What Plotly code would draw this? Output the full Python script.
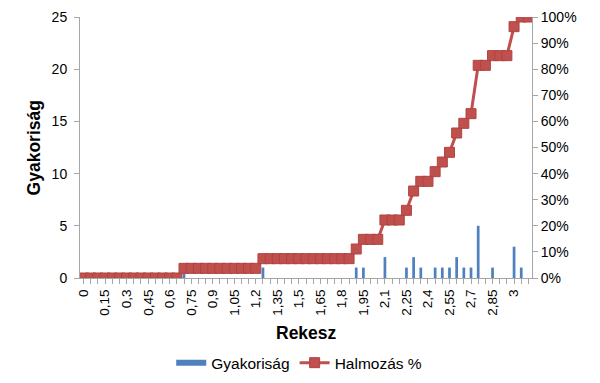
import plotly.graph_objects as go

# Bin values (Rekesz), step 0,05 from 0 to 3,10
bins = [round(0.05 * i, 2) for i in range(63)]

# Frequency (Gyakoriság) per bin
counts = [0, 0, 0, 0, 0, 0, 0, 0, 0, 0,
          0, 0, 0, 0, 1, 0, 0, 0, 0, 0,
          0, 0, 0, 0, 0, 1, 0, 0, 0, 0,
          0, 0, 0, 0, 0, 0, 0, 0, 1, 1,
          0, 0, 2, 0, 0, 1, 2, 1, 0, 1,
          1, 1, 2, 1, 1, 5, 0, 1, 0, 0,
          3, 1, 0]

# Cumulative percentage (Halmozás %)
cum_pct = [0, 0, 0, 0, 0, 0, 0, 0, 0, 0,
           0, 0, 0, 0, 3.70, 3.70, 3.70, 3.70, 3.70, 3.70,
           3.70, 3.70, 3.70, 3.70, 3.70, 7.41, 7.41, 7.41, 7.41, 7.41,
           7.41, 7.41, 7.41, 7.41, 7.41, 7.41, 7.41, 7.41, 11.11, 14.81,
           14.81, 14.81, 22.22, 22.22, 22.22, 25.93, 33.33, 37.04, 37.04, 40.74,
           44.44, 48.15, 55.56, 59.26, 62.96, 81.48, 81.48, 85.19, 85.19, 85.19,
           96.30, 100, 100]

tick_vals = [0, 0.15, 0.3, 0.45, 0.6, 0.75, 0.9, 1.05, 1.2, 1.35, 1.5,
             1.65, 1.8, 1.95, 2.1, 2.25, 2.4, 2.55, 2.7, 2.85, 3]
tick_text = ["0", "0,15", "0,3", "0,45", "0,6", "0,75", "0,9", "1,05", "1,2", "1,35", "1,5",
             "1,65", "1,8", "1,95", "2,1", "2,25", "2,4", "2,55", "2,7", "2,85", "3"]

BLUE = "#4F81BD"
RED = "#C0504D"
GRID = "#A6A6A6"
FONT = "Liberation Sans, Arial, sans-serif"

fig = go.Figure()
fig.add_trace(go.Bar(x=bins, y=counts, name="Gyakoriság", marker=dict(color=BLUE, line=dict(width=0)),
                     yaxis="y", showlegend=False))
# legend swatch for the bars (wide rectangle as in the original)
fig.add_trace(go.Scatter(x=[None], y=[None], name="Gyakoriság", mode="lines",
                         line=dict(color=BLUE, width=6), yaxis="y"))
fig.add_trace(go.Scatter(x=bins, y=[v / 100 for v in cum_pct], name="Halmozás %", mode="lines+markers",
                         line=dict(color=RED, width=3),
                         marker=dict(symbol="square", size=10, color=RED, line=dict(color="#B04440", width=1)),
                         yaxis="y2"))

# The page body has an 8px margin, so the figure is 592x375 and offset by 8px.
fig.update_layout(
    width=592, height=375,
    margin=dict(l=72, r=68, t=9, b=105, autoexpand=False),
    paper_bgcolor="white", plot_bgcolor="white",
    font=dict(family=FONT, color="#000000", size=14),
    bargap=0.62,
    showlegend=True,
    legend=dict(orientation="h", x=0.485, xanchor="center", y=-0.326, yanchor="middle",
                font=dict(size=15.5), itemwidth=30, traceorder="normal"),
    xaxis=dict(range=[-0.025, 3.125], tickmode="array", tickvals=tick_vals, ticktext=tick_text,
               tickangle=-90, tickfont=dict(size=13.5), showgrid=False, zeroline=False,
               showline=True, linecolor=GRID, linewidth=1, automargin=False,
               ticks="outside", ticklen=5, tickcolor=GRID,
               minor=dict(tickmode="linear", tick0=0, dtick=0.05, ticks="outside", ticklen=5, tickcolor=GRID)),
    yaxis=dict(range=[0, 25], dtick=5, showgrid=False, zeroline=False, showline=True, linecolor=GRID,
               linewidth=1, ticks="outside", ticklen=5, tickcolor=GRID, tickfont=dict(size=14),
               ticklabelstandoff=4, ticklabeloverflow="allow", automargin=False),
    yaxis2=dict(range=[0, 1], dtick=0.1, tickformat=".0%", overlaying="y", side="right",
                showgrid=False, zeroline=False, showline=True, linecolor=GRID, linewidth=1,
                ticks="outside", ticklen=5, tickcolor=GRID, tickfont=dict(size=14),
                ticklabeloverflow="allow", automargin=False),
    annotations=[
        dict(text="<b>Rekesz</b>", x=0.5, y=-0.21, xref="paper", yref="paper", showarrow=False,
             font=dict(size=17.5), xanchor="center", yanchor="middle"),
        dict(text="<b>Gyakoriság</b>", x=-0.102, y=0.5, xref="paper", yref="paper", showarrow=False,
             font=dict(size=17.5), textangle=-90, xanchor="center", yanchor="middle"),
    ],
)

fig.write_html("out.html")
